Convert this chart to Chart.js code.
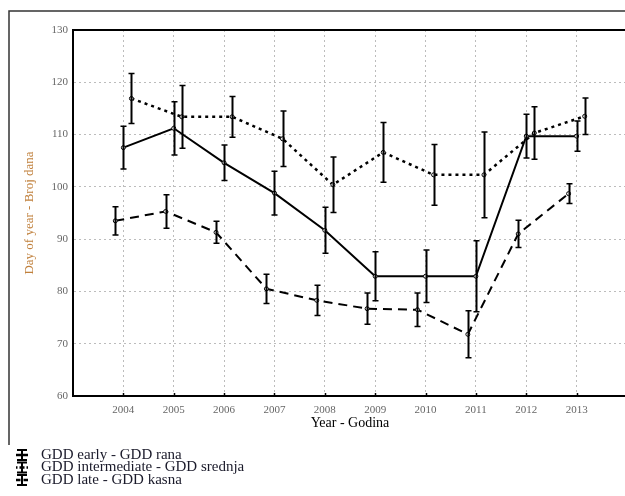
<!DOCTYPE html>
<html>
<head>
<meta charset="utf-8">
<title>GDD day of year</title>
<script src="https://cdn.jsdelivr.net/npm/chart.js@4.4.1/dist/chart.umd.min.js"></script>
<style>
  html, body { margin: 0; padding: 0; background: #fff; overflow: hidden; }
  #wrap { position: relative; width: 625px; height: 496px; overflow: hidden; }
  canvas { display: block; }
</style>
</head>
<body>
<div id="wrap"><canvas id="gddChart" width="640" height="496"></canvas></div>
<script>
const years = [2004, 2005, 2006, 2007, 2008, 2009, 2010, 2011, 2012, 2013];

// means and half-length of the error bars
const earlyMean = [107.5, 111.2, 104.6, 98.8, 91.7, 82.9, 82.9, 82.9, 109.7, 109.7];
const earlyErr  = [4.1, 5.1, 3.4, 4.2, 4.4, 4.7, 5.0, 6.8, 4.2, 2.9];
const interMean = [116.9, 113.4, 113.4, 109.2, 100.4, 106.6, 102.3, 102.3, 110.3, 113.5];
const interErr  = [4.8, 6.0, 3.9, 5.3, 5.3, 5.7, 5.8, 8.2, 5.0, 3.5];
const lateMean  = [93.5, 95.3, 91.3, 80.5, 78.3, 76.7, 76.5, 71.8, 91.0, 98.7];
const lateErr   = [2.7, 3.2, 2.1, 2.8, 2.9, 3.0, 3.2, 4.5, 2.6, 1.9];

const seriesNames = ["GDD early - GDD rana", "GDD intermediate - GDD srednja", "GDD late - GDD kasna"];
const yTicks = [60, 70, 80, 90, 100, 110, 120, 130];

const SERIF = "'Liberation Serif', 'DejaVu Serif', serif";
const GRID = "#bcbcbc";

function points(means, shift) {
  return years.map((yr, i) => ({ x: yr + shift, y: means[i] }));
}

const styles = [
  { dash: [], width: 2 },
  { dash: [3, 4], width: 2.5 },
  { dash: [9, 6], width: 2 }
];

const errorBars = {
  id: "errorBars",
  afterDatasetsDraw(chart) {
    const { ctx, scales: { x, y } } = chart;
    ctx.save();
    ctx.strokeStyle = "#000";
    chart.data.datasets.forEach(ds => {
      ds.data.forEach((p, i) => {
        const px = Math.round(x.getPixelForValue(p.x)) + 0.5;
        const top = y.getPixelForValue(p.y + ds.errors[i]);
        const bot = y.getPixelForValue(p.y - ds.errors[i]);
        ctx.lineWidth = 2;
        ctx.beginPath();
        ctx.moveTo(px, top);
        ctx.lineTo(px, bot);
        ctx.stroke();
        ctx.lineWidth = 1.5;
        ctx.beginPath();
        ctx.moveTo(px - 3, top); ctx.lineTo(px + 3, top);
        ctx.moveTo(px - 3, bot); ctx.lineTo(px + 3, bot);
        ctx.stroke();
      });
    });
    ctx.restore();
  }
};

const frameAndLegend = {
  id: "frameAndLegend",
  beforeDraw(chart) {
    const ctx = chart.ctx;
    ctx.save();
    ctx.strokeStyle = "#333";
    ctx.lineWidth = 1.5;
    ctx.beginPath();
    ctx.moveTo(9, 445);
    ctx.lineTo(9, 11);
    ctx.lineTo(640, 11);
    ctx.stroke();
    ctx.restore();
  },
  afterDraw(chart) {
    const { ctx, chartArea: area, scales: { x } } = chart;
    ctx.save();
    // top border of the plot
    ctx.strokeStyle = "#000";
    ctx.lineWidth = 2;
    ctx.beginPath();
    ctx.moveTo(area.left - 1, area.top);
    ctx.lineTo(area.right, area.top);
    ctx.stroke();
    // small inward ticks on the year axis
    ctx.lineWidth = 1.5;
    years.forEach(yr => {
      const px = Math.round(x.getPixelForValue(yr)) + 0.5;
      ctx.beginPath();
      ctx.moveTo(px, area.bottom);
      ctx.lineTo(px, area.bottom - 3);
      ctx.stroke();
    });

    // legend
    seriesNames.forEach((name, i) => {
      const yc = 455 + i * 12.5;
      ctx.strokeStyle = "#000";
      ctx.setLineDash([]);
      ctx.lineWidth = 2;
      ctx.beginPath();
      ctx.moveTo(22, yc - 5); ctx.lineTo(22, yc + 5);
      ctx.moveTo(17, yc - 5); ctx.lineTo(27, yc - 5);
      ctx.moveTo(17, yc + 5); ctx.lineTo(27, yc + 5);
      ctx.stroke();
      ctx.lineWidth = 2.5;
      ctx.setLineDash(styles[i].dash.map(d => d / 2));
      ctx.beginPath();
      ctx.moveTo(16, yc); ctx.lineTo(28, yc);
      ctx.stroke();
      ctx.setLineDash([]);
      ctx.fillStyle = "#1a1a2a";
      ctx.font = "15px " + SERIF;
      ctx.textBaseline = "middle";
      ctx.textAlign = "left";
      ctx.fillText(name, 41, yc);
    });
    ctx.restore();
  }
};

const ctx = document.getElementById("gddChart").getContext("2d");
new Chart(ctx, {
  type: "line",
  data: {
    datasets: [
      { label: seriesNames[0], data: points(earlyMean, 0), errors: earlyErr },
      { label: seriesNames[1], data: points(interMean, 0.16), errors: interErr },
      { label: seriesNames[2], data: points(lateMean, -0.16), errors: lateErr }
    ].map((ds, i) => Object.assign(ds, {
      borderColor: "#000",
      borderWidth: styles[i].width,
      borderDash: styles[i].dash,
      pointRadius: 2,
      pointBackgroundColor: "#fff",
      pointBorderColor: "#000",
      pointBorderWidth: 1,
      tension: 0,
      fill: false
    }))
  },
  options: {
    responsive: false,
    animation: false,
    devicePixelRatio: 1,
    layout: { padding: { left: 0, top: 30, right: 13, bottom: 56 } },
    plugins: {
      legend: { display: false },
      tooltip: { enabled: false }
    },
    scales: {
      x: {
        type: "linear",
        min: 2003,
        max: 2014,
        afterFit: s => { s.height = 44; },
        afterBuildTicks: s => { s.ticks = [2003].concat(years, [2014]).map(v => ({ value: v })); },
        ticks: {
          callback: v => years.includes(v) ? String(v) : "",
          color: "#666",
          font: { family: SERIF, size: 11 },
          padding: 8,
          maxRotation: 0,
          autoSkip: false
        },
        grid: {
          drawTicks: false,
          color: c => (c.tick && years.includes(c.tick.value)) ? GRID : "rgba(0,0,0,0)",
          lineWidth: 1
        },
        border: { display: true, color: "#000", width: 2, dash: [2, 3] },
        title: {
          display: true,
          text: "Year - Godina",
          color: "#000",
          font: { family: SERIF, size: 14 },
          padding: { top: 0, bottom: 8 }
        }
      },
      y: {
        min: 60,
        max: 130,
        afterFit: s => { s.width = 73; },
        afterBuildTicks: s => { s.ticks = yTicks.map(v => ({ value: v })); },
        ticks: {
          callback: v => String(v),
          color: "#666",
          font: { family: SERIF, size: 11 },
          padding: 5
        },
        grid: {
          drawTicks: false,
          color: c => (c.tick && c.tick.value > 60 && c.tick.value < 130) ? GRID : "rgba(0,0,0,0)",
          lineWidth: 1
        },
        border: { display: true, color: "#000", width: 2, dash: [2, 3] },
        title: {
          display: true,
          text: "Day of year - Broj dana",
          color: "#c0803c",
          font: { family: SERIF, size: 13 },
          padding: { top: 22, bottom: 0 }
        }
      }
    }
  },
  plugins: [errorBars, frameAndLegend]
});
</script>
</body>
</html>
